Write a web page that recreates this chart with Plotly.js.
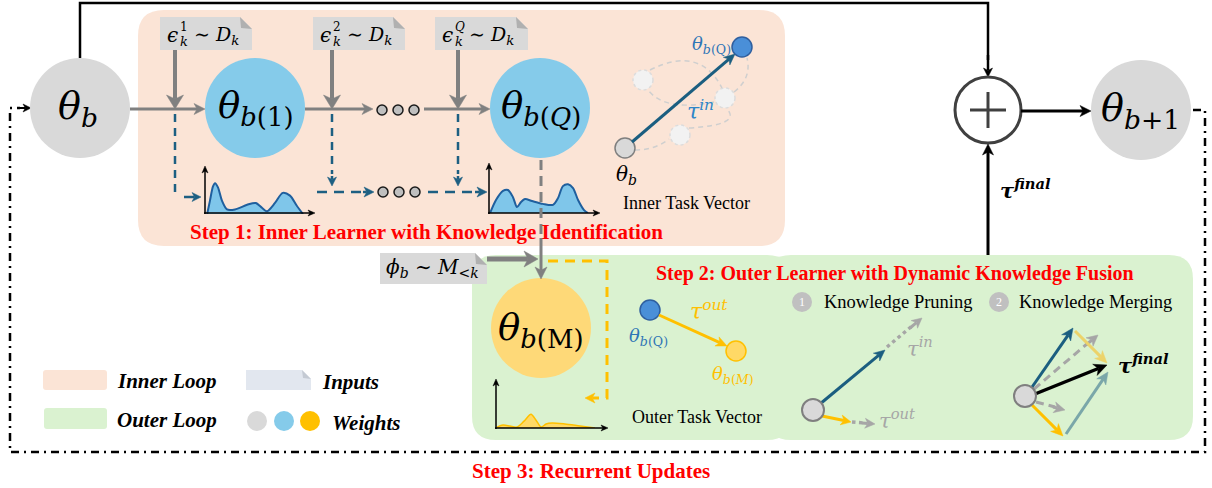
<!DOCTYPE html>
<html><head><meta charset="utf-8">
<script src="https://cdn.plot.ly/plotly-3.0.1.min.js"></script>
<style>html,body{margin:0;padding:0;background:#fff;}#chart{width:1212px;height:488px;}</style>
</head><body><div id="chart"></div>
<script>
// ---------- data ----------
const innerFirstX = [0.02,0.046,0.074,0.093,0.12,0.157,0.204,0.278,0.39,0.47,0.53,0.574,0.648,0.72,0.787,0.85,0.907];
const innerFirstY = [0,0.29,0.6,0.67,0.58,0.29,0.1,0.1,0.2,0.24,0.13,0.06,0.24,0.46,0.4,0.18,0];
const innerLastX = [0.01,0.064,0.128,0.174,0.22,0.257,0.294,0.33,0.394,0.495,0.587,0.633,0.678,0.725,0.771,0.817,0.872,0.908];
const innerLastY = [0,0.27,0.46,0.48,0.33,0.125,0.23,0.29,0.25,0.19,0.17,0.31,0.56,0.6,0.52,0.27,0.06,0];
const outerX = [0.01,0.064,0.127,0.19,0.255,0.318,0.364,0.41,0.455,0.51,0.627,0.764,0.9];
const outerY = [0.02,0.065,0.043,0.02,0.15,0.3,0.17,0.02,0.087,0.11,0.087,0.043,0];

const stepTitles = ['Step 1: Inner Learner with Knowledge Identification','Step 2: Outer Learner with Dynamic Knowledge Fusion','Step 3: Recurrent Updates'];
const weightLabels = ['<i>θ</i><sub><i>b</i></sub>','<i>θ</i><sub><i>b</i>(1)</sub>','<i>θ</i><sub><i>b</i>(<i>Q</i>)</sub>','<i>θ</i><sub><i>b</i>(M)</sub>','<i>θ</i><sub><i>b</i>+1</sub>'];
const inputSups = ['1','2','<i>Q</i>'];
const legendLabels = ['Inner Loop','Outer Loop','Inputs','Weights'];
const fusionSteps = ['Knowledge Pruning','Knowledge Merging'];
const vectorCaptions = ['Inner Task Vector','Outer Task Vector'];

// ---------- drawing helpers ----------
const SERIF = 'Liberation Serif, Times New Roman, serif';
const MATH = 'DejaVu Serif, serif';
const shapes = [], ann = [];
function rr(x0,y0,x1,y1,r,fill,layer){
  const d=`M${x0+r},${y0} L${x1-r},${y0} Q${x1},${y0} ${x1},${y0+r} L${x1},${y1-r} Q${x1},${y1} ${x1-r},${y1} L${x0+r},${y1} Q${x0},${y1} ${x0},${y1-r} L${x0},${y0+r} Q${x0},${y0} ${x0+r},${y0} Z`;
  shapes.push({type:'path',path:d,xref:'x',yref:'y',fillcolor:fill,line:{width:0},layer:layer||'below'});
}
function circ(cx,cy,r,fill,lc,lw,dash){
  shapes.push({type:'circle',xref:'x',yref:'y',x0:cx-r,x1:cx+r,y0:cy-r,y1:cy+r,fillcolor:fill,line:{color:lc||fill,width:lw===undefined?0:lw,dash:dash||'solid'}});
}
function pth(d,color,w,dash,fill){
  shapes.push({type:'path',path:d,xref:'x',yref:'y',fillcolor:fill||'rgba(0,0,0,0)',line:{color:color,width:w,dash:dash||'solid'}});
}
// arrow drawn as a shaft + notched head, both shapes
function arrow(x0,y0,x1,y1,color,w,hl,hw,dash){
  const L=Math.hypot(x1-x0,y1-y0), ux=(x1-x0)/L, uy=(y1-y0)/L;
  hl = hl || Math.max(7, w*3.3); hw = hw || hl*0.95;
  const bx=x1-ux*hl, by=y1-uy*hl, nx=x1-ux*hl*0.72, ny=y1-uy*hl*0.72;
  if (L>hl*0.8) pth(`M${x0},${y0} L${nx},${ny}`,color,w,dash);
  const px=-uy*hw/2, py=ux*hw/2;
  shapes.push({type:'path',xref:'x',yref:'y',path:`M${x1},${y1} L${bx+px},${by+py} L${nx},${ny} L${bx-px},${by-py} Z`,fillcolor:color,line:{color:color,width:0.5}});
}
function txt(x,y,text,size,color,family,xanchor){
  ann.push({x:x,y:y,xref:'x',yref:'y',text:text,showarrow:false,font:{family:family||SERIF,size:size,color:color||'#000'},xanchor:xanchor||'center',yanchor:'middle'});
}
function doc(x0,y0,x1,y1,f,fill,fold){
  shapes.push({type:'path',xref:'x',yref:'y',path:`M${x0},${y0} L${x1-f},${y0} L${x1},${y0+f} L${x1},${y1} L${x0},${y1} Z`,fillcolor:fill,line:{width:0}});
  shapes.push({type:'path',xref:'x',yref:'y',path:`M${x1-f},${y0} L${x1-f+1},${y0+f-1} L${x1},${y0+f} Z`,fillcolor:fold,line:{width:0}});
}

// ---------- backgrounds ----------
rr(138,10,785,246,26,'#fbe4d6');
rr(472,255,791,440,24,'#daf2d0');
rr(767,255,1193,440,24,'#daf2d0');

// ---------- top skip line & recurrent loop ----------
pth('M80,58 L80,3 L988,3 L988,60','#000',2.5);
arrow(988,55,988,77,'#000',2.5,9,9);
pth('M1193,110 L1205,110 L1205,452 L10,452 L10,108 L20,108','#000',2.5,'8px,5px,2px,5px');
arrow(18,108,31,108,'#000',2,8,8);

// ---------- inner loop ----------
[[160,252],[313,405],[435,528]].forEach(b=>doc(b[0],17,b[1],50,12,'#d9d9d9','#b0b0b0'));
[175,332,458].forEach(x=>arrow(x,50,x,109,'#808080',4,14,17));
arrow(130,109,205,109,'#808080',3,11,11);
arrow(305,109,373,109,'#808080',3,11,11);
arrow(424,109,490,109,'#808080',3,11,11);

// dots
[[382,110],[398,110],[414,110],[383,192],[399,192],[415,192]].forEach(p=>circ(p[0],p[1],5,'#bfbfbf','#1a1a1a',1.5));

// dashed blue flow
const BL='#1d5f82';
pth('M175,114 L175,197',BL,2.5,'8px,6px');
arrow(184,197,201,197,BL,2.5,9,9);
pth('M332,114 L332,174',BL,2.5,'8px,6px');
arrow(332,176,332,186,BL,2.5,9,9);
pth('M458,114 L458,174',BL,2.5,'8px,6px');
arrow(458,176,458,186,BL,2.5,9,9);
pth('M317,192 L362,192',BL,2.5,'10px,7px');
arrow(363,192,374,192,BL,2.5,10,10);
pth('M428,192 L474,192',BL,2.5,'10px,7px');
arrow(475,192,487,192,BL,2.5,10,10);

// mini axes
arrow(205,214,205,166,'#000',1.5,7,6);
arrow(204,213,315,213,'#000',1.5,7,6);
arrow(489,214,489,163,'#000',1.5,7,6);
arrow(488,213,600,213,'#000',1.5,7,6);
arrow(496,429,496,379,'#000',1.5,7,6);
arrow(495,428,608,428,'#000',1.5,7,6);

// weight circles (main row)
circ(80,108,50,'#d9d9d9');
circ(255,108,50,'#85cbea');
circ(540,108,50,'#85cbea');
circ(1141,110,50,'#d9d9d9');
circ(541,328,50,'#fed978');

// plus node
circ(988,110,33,'rgba(0,0,0,0)','#404040',3);
pth('M970,110 L1006,110','#404040',3);
pth('M988,92 L988,128','#404040',3);
arrow(1021,111,1091,111,'#000',3,11,11);
arrow(988,255,988,144,'#000',3,11,11);

// grey dashed to outer
pth('M541,160 L541,240','#808080',3,'10px,6px');
arrow(541,238,541,279,'#808080',3,12,12);
doc(380,253,487,284,12,'#d9d9d9','#b0b0b0');
arrow(487,259,538,259,'#808080',5,14,16);

// orange dashed loop
pth('M548,261 L607,261 L607,398 L598,398','#ffc000',3,'10px,7px');
arrow(598,398,585,398,'#ffc000',3,10,10);

// ---------- inner task vector ----------
const GH='#cfcfcf';
pth('M635,150 Q655,150 669,139',GH,1.5,'5px,4px');
pth('M689,128 Q740,125 728,110',GH,1.5,'5px,4px');
pth('M650,70 Q700,45 722,88',GH,1.5,'5px,4px');
pth('M714,102 Q665,112 648,90',GH,1.5,'5px,4px');
pth('M734,92 Q752,78 747,58',GH,1.5,'5px,4px');
circ(643,80,10,'#f2f2f2','#dcdcdc',1.5,'dot');
circ(725,98,10,'#f2f2f2','#dcdcdc',1.5,'dot');
circ(680,135,10,'#f2f2f2','#dcdcdc',1.5,'dot');
circ(625,148,10,'#d9d9d9','#7f7f7f',1.5);
circ(742,47,10,'#4a8fd8','#2f5f9f',1.5);
arrow(632,142,735,54,'#1b5e80',3,11,10);

// ---------- outer task vector ----------
circ(650,310,10,'#4a8fd8','#2f5f9f',1.5);
circ(736,351,10,'#ffd966','#ffc000',1.5);
arrow(659,315,727,346,'#ffc000',3,11,10);

// ---------- knowledge pruning ----------
circ(802,302,10,'#c0c0c0');
circ(999,302,10,'#c0c0c0');
pth('M887,347 L912,326','#a6a6a6',3.5,'dot');
arrow(910,328,922,318,'#a6a6a6',3,10,10);
arrow(820,404,885,350,'#1b5e80',3,11,10);
pth('M852,422 L864,423','#a6a6a6',3.5,'dot');
arrow(862,423,875,424,'#a6a6a6',3,10,10);
arrow(822,416,851,422,'#ffc000',3,10,10);
circ(813,410,11,'#d9d9d9','#7f7f7f',2);

// ---------- knowledge merging ----------
pth('M1034,389 L1088,343','#a6a6a6',3,'8px,5px');
arrow(1086,345,1098,335,'#a6a6a6',3,11,11);
pth('M1036,402 L1055,407','#a6a6a6',3,'8px,5px');
arrow(1053,407,1065,410,'#a6a6a6',3,11,11);
arrow(1030,390,1073,328,'#1b5e80',3,12,11);
arrow(1075,331,1107,363,'#ecd36a',3,12,11);
arrow(1032,405,1063,436,'#ffc000',3,12,11);
arrow(1066,434,1108,372,'#7aa7a9',3,12,11);
arrow(1035,394,1107,365,'#000',3.5,13,12);
circ(1025,396,11,'#d9d9d9','#7f7f7f',2);

// ---------- legend ----------
rr(43,370,107,390,3,'#fbe4d6','above');
rr(44,408,107,429,3,'#daf2d0','above');
doc(246,370,311,390,9,'#e2e7ef','#c4cad3');
circ(257,421,10,'#d9d9d9');
circ(284,421,10,'#85cbea');
circ(310,421,10,'#ffc000');

// ---------- texts ----------
txt(78,108,weightLabels[0],38,'#000',MATH);
txt(256,108,weightLabels[1],37,'#000',MATH);
txt(541,108,weightLabels[2],37,'#000',MATH);
txt(541,330,weightLabels[3],37,'#000',MATH);
txt(1140,110,weightLabels[4],38,'#000',MATH);

[172,325,447].forEach((x,i)=>{
  txt(x,35,'<i>ϵ</i>',20,'#000',MATH);
  txt(x+6,27,inputSups[i],12,'#000',MATH,'left');
  txt(x+6,41,'<i>k</i>',13,'#000',MATH,'left');
  txt(x+20,35,'∼ <i>D</i><sub><i>k</i></sub>',19,'#000',MATH,'left');
});
txt(432,268,'<i>ϕ</i><sub><i>b</i></sub> ∼ <i>M</i><sub><<i>k</i></sub>',20,'#000',MATH);

txt(426,232,'<b>'+stepTitles[0]+'</b>',21,'#ff0000');
txt(895,273,'<b>'+stepTitles[1]+'</b>',20,'#ff0000');
txt(591,471,'<b>'+stepTitles[2]+'</b>',21,'#ff0000');

txt(733,45,'<i>θ</i><sub><i>b</i>(Q)</sub>',18,'#2e75b6',MATH,'right');
txt(700,110,'<i>τ</i><sup><i>in</i></sup>',22,'#2e86c8',MATH);
txt(626,175,'<i>θ</i><sub><i>b</i></sub>',20,'#000',MATH);
txt(686,203,vectorCaptions[0],18,'#000');

txt(648,337,'<i>θ</i><sub><i>b</i>(Q)</sub>',18,'#2e75b6',MATH);
txt(709,310,'<i>τ</i><sup><i>out</i></sup>',22,'#ffc000',MATH);
txt(733,375,'<i>θ</i><sub><i>b</i>(<i>M</i>)</sub>',18,'#ffc000',MATH);
txt(697,417,vectorCaptions[1],18,'#000');

txt(802,302,'1',12,'#ffffff');
txt(999,302,'2',12,'#ffffff');
txt(822,302,fusionSteps[0],18.5,'#000',SERIF,'left');
txt(1017,302,fusionSteps[1],18.5,'#000',SERIF,'left');
txt(920,347,'<i>τ</i><sup><i>in</i></sup>',21,'#a6a6a6',MATH);
txt(897,419,'<i>τ</i><sup><i>out</i></sup>',21,'#a6a6a6',MATH);
txt(1143,364,'<b><i>τ</i><sup><i>final</i></sup></b>',21,'#000',MATH);
txt(998,189,'<b><i>τ</i><sup><i>final</i></sup></b>',21,'#000',MATH,'left');

txt(115,381,'<b><i>'+legendLabels[0]+'</i></b>',21,'#000',SERIF,'left');
txt(115,420,'<b><i>'+legendLabels[1]+'</i></b>',21,'#000',SERIF,'left');
txt(320,382,'<b><i>'+legendLabels[2]+'</i></b>',21,'#000',SERIF,'left');
txt(330,423,'<b><i>'+legendLabels[3]+'</i></b>',21,'#000',SERIF,'left');

// ---------- traces ----------
const traces = [
  {type:'scatter',x:[0],y:[0],mode:'markers',marker:{opacity:0},hoverinfo:'skip',xaxis:'x',yaxis:'y'},
  {type:'scatter',x:innerFirstX,y:innerFirstY,xaxis:'x2',yaxis:'y2',mode:'lines',line:{color:'#1f5f9e',width:2,shape:'spline',smoothing:0.8},fill:'tozeroy',fillcolor:'#7fc6ea',hoverinfo:'skip'},
  {type:'scatter',x:innerLastX,y:innerLastY,xaxis:'x3',yaxis:'y3',mode:'lines',line:{color:'#1f5f9e',width:2,shape:'spline',smoothing:0.8},fill:'tozeroy',fillcolor:'#7fc6ea',hoverinfo:'skip'},
  {type:'scatter',x:outerX,y:outerY,xaxis:'x4',yaxis:'y4',mode:'lines',line:{color:'#ffc000',width:1.5,shape:'spline',smoothing:0.8},fill:'tozeroy',fillcolor:'#ffd966',hoverinfo:'skip'}
];
const W=1212,H=488;
const dx=(a,b)=>[a/W,b/W], dy=(bot,top)=>[1-bot/H,1-top/H];
const hid={visible:false,fixedrange:true,showgrid:false,zeroline:false};
const layout = {
  width:W,height:H,margin:{l:0,r:0,t:0,b:0,pad:0},paper_bgcolor:'#ffffff',plot_bgcolor:'rgba(0,0,0,0)',showlegend:false,
  xaxis:Object.assign({range:[0,W],domain:[0,1]},hid),
  yaxis:Object.assign({range:[H,0],domain:[0,1]},hid),
  xaxis2:Object.assign({range:[0,1],domain:dx(205,313),anchor:'y2'},hid),
  yaxis2:Object.assign({range:[0,1],domain:dy(214,168),anchor:'x2'},hid),
  xaxis3:Object.assign({range:[0,1],domain:dx(489,598),anchor:'y3'},hid),
  yaxis3:Object.assign({range:[0,1],domain:dy(213,165),anchor:'x3'},hid),
  xaxis4:Object.assign({range:[0,1],domain:dx(496,606),anchor:'y4'},hid),
  yaxis4:Object.assign({range:[0,1],domain:dy(428,382),anchor:'x4'},hid),
  shapes:shapes,annotations:ann
};
Plotly.newPlot('chart',traces,layout,{displayModeBar:false});
</script></body></html>
